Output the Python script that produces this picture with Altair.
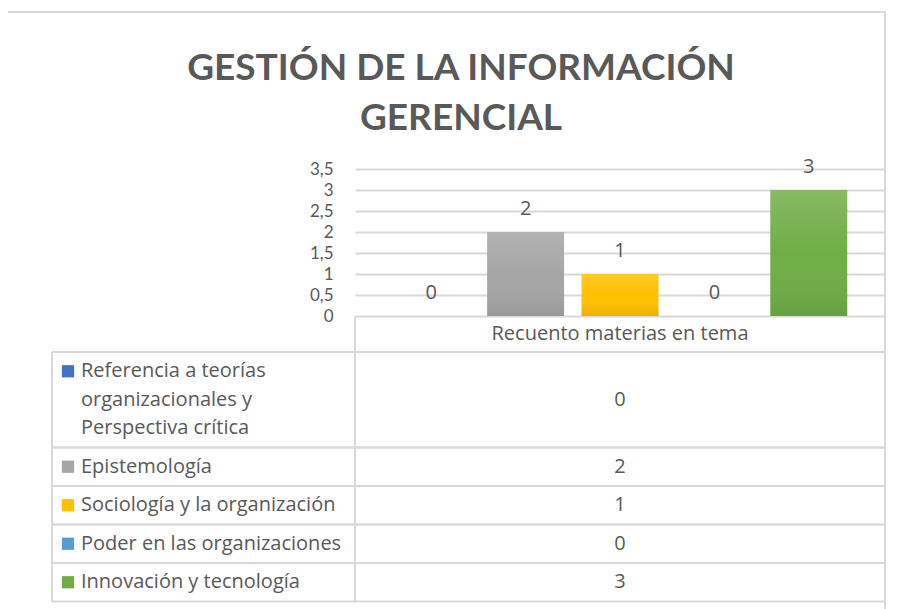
import altair as alt
import pandas as pd

# ---------------- data ----------------
categories = [
    "Referencia a teorías organizacionales y Perspectiva crítica",
    "Epistemología",
    "Sociología y la organización",
    "Poder en las organizaciones",
    "Innovación y tecnología",
]
category_lines = [
    ["Referencia a teorías", "organizacionales y", "Perspectiva crítica"],
    ["Epistemología"],
    ["Sociología y la organización"],
    ["Poder en las organizaciones"],
    ["Innovación y tecnología"],
]
values = [0, 2, 1, 0, 3]
series_name = "Recuento materias en tema"
title_lines = ["GESTIÓN DE LA INFORMACIÓN", "GERENCIAL"]
y_ticks = [0, 0.5, 1, 1.5, 2, 2.5, 3, 3.5]
palette = ["#4472C4", "#A5A5A5", "#FFC000", "#5B9BD5", "#70AD47"]

# ---------------- style / layout ----------------
TEXT = "#595959"
LINE = "#D9D9D9"
FONT = "Open Sans"
TITLE_FONT = "Lato"
BODY_SIZE = 20
PLOT_W, PLOT_H = 530, 147
TABLE_LEFT = -303
HEADER_H = 36
LINE_H = 28.5
ROW_PAD = 10
TABLE_H = HEADER_H + sum(ROW_PAD + LINE_H * len(l) for l in category_lines)

df = pd.DataFrame({
    "categoria": categories,
    "lineas": category_lines,
    "valor": values,
    "orden": list(range(len(categories))),
})
one = pd.DataFrame({"k": [0]})

base = alt.Chart(df)

x_enc = alt.X("categoria:N", sort=categories, axis=None,
              scale=alt.Scale(paddingInner=0.185, paddingOuter=0.4))
y_enc = alt.Y("valor:Q", title=None,
              scale=alt.Scale(domain=[0, 3.5], nice=False),
              axis=alt.Axis(values=y_ticks,
                            labelExpr="replace(toString(datum.value), '.', ',')",
                            domain=False, ticks=False, tickSize=0,
                            labelPadding=22, labelFont="Lato", labelFontSize=17,
                            labelColor=TEXT, gridColor=LINE, gridWidth=2))
color_enc = alt.Color("categoria:N", scale=alt.Scale(domain=categories, range=palette),
                      legend=None)

bars = base.mark_bar().encode(x=x_enc, y=y_enc, color=color_enc)
shade = base.mark_bar(
    fill=alt.Gradient(
        gradient="linear", x1=0, x2=0, y1=0, y2=1,
        stops=[alt.GradientStop(color="rgba(255,255,255,0.16)", offset=0),
               alt.GradientStop(color="rgba(255,255,255,0)", offset=0.5),
               alt.GradientStop(color="rgba(0,0,0,0.08)", offset=1)])
).encode(x=x_enc, y=y_enc)
labels = base.mark_text(dy=-17, baseline="alphabetic", font=FONT, fontSize=20,
                        color=TEXT).encode(x=x_enc, y=y_enc, text="valor:Q")

bar_layer = alt.layer(bars, shade, labels)

# ---------------- data table ----------------
table = (
    base.transform_calculate(n="length(datum.lineas)")
    .transform_calculate(h=f"{ROW_PAD} + {LINE_H} * datum.n")
    .transform_window(cum="sum(h)", sort=[alt.SortField("orden")])
    .transform_calculate(top=f"{HEADER_H} + datum.cum - datum.h",
                         bottom=f"{HEADER_H} + datum.cum")
    .transform_calculate(mid="(datum.top + datum.bottom) / 2",
                         first=f"datum.top + {ROW_PAD / 2 + LINE_H / 2}")
)


def ty(f):
    return alt.Y(f"{f}:Q", axis=None,
                 scale=alt.Scale(domain=[0, TABLE_H], range=[PLOT_H, PLOT_H + TABLE_H]))


h_top = table.mark_rule(color=LINE, strokeWidth=2).encode(
    x=alt.value(TABLE_LEFT), x2=alt.value(PLOT_W), y=ty("top"))
h_bot = table.mark_rule(color=LINE, strokeWidth=2).encode(
    x=alt.value(TABLE_LEFT), x2=alt.value(PLOT_W), y=ty("bottom"))
swatch = table.mark_square(size=150, opacity=1).encode(
    x=alt.value(TABLE_LEFT + 16), y=ty("first"), color=color_enc)
row_text = table.mark_text(align="left", baseline="middle", font=FONT, fontSize=BODY_SIZE,
                           color=TEXT, lineHeight=LINE_H).encode(
    x=alt.value(TABLE_LEFT + 29), y=ty("first"), text="lineas")
val_text = table.mark_text(align="center", baseline="middle", font=FONT, fontSize=BODY_SIZE,
                           color=TEXT).encode(
    x=alt.value(PLOT_W / 2), y=ty("mid"), text="valor:Q")

table_layer = alt.layer(h_top, h_bot, swatch, row_text, val_text)

# ---------------- frame, header, title ----------------
misc = alt.Chart(one)
v_left = misc.mark_rule(color=LINE, strokeWidth=2).encode(
    x=alt.value(TABLE_LEFT), y=alt.value(PLOT_H + HEADER_H), y2=alt.value(PLOT_H + TABLE_H))
v_mid = misc.mark_rule(color=LINE, strokeWidth=2).encode(
    x=alt.value(0), y=alt.value(PLOT_H), y2=alt.value(PLOT_H + TABLE_H))
v_right = misc.mark_rule(color=LINE, strokeWidth=2).encode(
    x=alt.value(PLOT_W), y=alt.value(PLOT_H), y2=alt.value(PLOT_H + TABLE_H))
header = misc.mark_text(align="center", baseline="middle", font=FONT, fontSize=BODY_SIZE,
                        color=TEXT).encode(
    x=alt.value(PLOT_W / 2), y=alt.value(PLOT_H + HEADER_H / 2), text=alt.value(series_name))
frame = misc.mark_rect(fillOpacity=0, stroke=LINE, strokeWidth=2).encode(
    x=alt.value(-348), x2=alt.value(PLOT_W), y=alt.value(-157), y2=alt.value(470))
title = misc.mark_text(align="center", baseline="alphabetic", font=TITLE_FONT,
                       fontSize=37, fontWeight="bold", color=TEXT, lineHeight=50).encode(
    x=alt.value(106), y=alt.value(-89), text=alt.value(title_lines))

misc_layer = alt.layer(frame, v_left, v_mid, v_right, header, title)

chart = (
    alt.layer(bar_layer, table_layer, misc_layer)
    .resolve_scale(y="independent")
    .properties(width=PLOT_W, height=PLOT_H,
                autosize=alt.AutoSizeParams(type="none"),
                padding={"left": 347, "top": 161, "right": 9, "bottom": 293})
    .configure_view(strokeWidth=0)
)

chart.save("out.html", embed_options={"renderer": "svg", "actions": False})
